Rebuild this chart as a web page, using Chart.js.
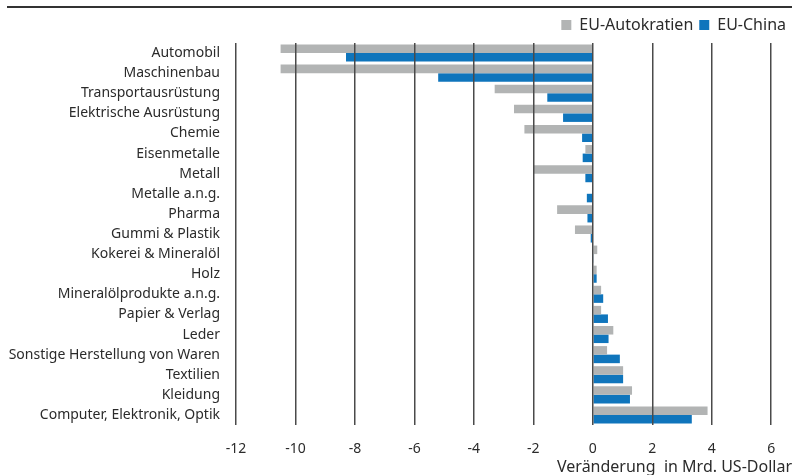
<!DOCTYPE html>
<html>
<head>
<meta charset="utf-8">
<script src="https://cdn.jsdelivr.net/npm/chart.js@4"></script>
<style>
  html, body { margin: 0; padding: 0; background: #fff; }
  #wrap { width: 792px; height: 475px; position: relative; }
</style>
</head>
<body>
<div id="wrap"><canvas id="chart" width="792" height="475"></canvas></div>
<script>
// categories, top to bottom
const branchen = [
  "Automobil", "Maschinenbau", "Transportausrüstung", "Elektrische Ausrüstung",
  "Chemie", "Eisenmetalle", "Metall", "Metalle a.n.g.", "Pharma",
  "Gummi & Plastik", "Kokerei & Mineralöl", "Holz", "Mineralölprodukte a.n.g.",
  "Papier & Verlag", "Leder", "Sonstige Herstellung von Waren", "Textilien",
  "Kleidung", "Computer, Elektronik, Optik"
];
// Veränderung in Mrd. US-Dollar
const euAutokratien = [-10.5, -10.5, -3.3, -2.65, -2.3, -0.25, -2.0, 0, -1.2, -0.6,
  0.15, 0.13, 0.28, 0.28, 0.69, 0.48, 1.02, 1.32, 3.86];
const euChina = [-8.3, -5.2, -1.53, -1.0, -0.36, -0.34, -0.25, -0.2, -0.18, -0.07,
  0.02, 0.13, 0.35, 0.51, 0.53, 0.91, 1.02, 1.25, 3.33];
const xTicks = [-12, -10, -8, -6, -4, -2, 0, 2, 4, 6];

const FONT = "'Noto Sans', sans-serif";
const TEXT = "#2b2b2b";

// dark rule at the very top
const topRule = {
  id: "topRule",
  beforeDraw(chart) {
    const c = chart.ctx;
    c.save();
    c.strokeStyle = "#333";
    c.lineWidth = 2;
    c.beginPath();
    c.moveTo(7, 7);
    c.lineTo(chart.width, 7);
    c.stroke();
    c.restore();
  },
};

new Chart(document.getElementById("chart").getContext("2d"), {
  type: "bar",
  data: {
    labels: branchen,
    datasets: [
      { label: "EU-Autokratien", data: euAutokratien, backgroundColor: "#b2b4b4" },
      { label: "EU-China", data: euChina, backgroundColor: "#0f75bc" },
    ],
  },
  plugins: [topRule],
  options: {
    responsive: false,
    animation: false,
    indexAxis: "y",
    layout: { padding: { top: 11, right: 0, left: 0, bottom: 0 } },
    datasets: { bar: { categoryPercentage: 0.85, barPercentage: 1.0 } },
    plugins: {
      tooltip: { enabled: false },
      legend: {
        position: "top",
        align: "end",
        labels: {
          boxWidth: 10,
          boxHeight: 10,
          padding: 6,
          color: TEXT,
          font: { family: FONT, size: 16 },
        },
      },
    },
    scales: {
      x: {
        min: -12,
        max: 6.7,
        afterBuildTicks: (s) => {
          s.ticks = xTicks.map((v) => ({ value: v }));
        },
        afterFit: (s) => { s.height = 50; },
        grid: { color: "#4a4a4a", lineWidth: 1.5, drawTicks: false, z: 1 },
        border: { display: false },
        ticks: {
          color: TEXT,
          padding: 16,
          font: { family: FONT, size: 14 },
        },
        title: {
          display: true,
          text: "Veränderung  in Mrd. US-Dollar",
          align: "end",
          color: TEXT,
          padding: { top: 0, bottom: -2 },
          font: { family: FONT, size: 16 },
        },
      },
      y: {
        afterFit: (s) => { s.width = 236; },
        grid: { display: false, drawTicks: false },
        border: { display: false },
        ticks: {
          color: TEXT,
          padding: 16,
          autoSkip: false,
          font: { family: FONT, size: 14 },
        },
      },
    },
  },
});
</script>
</body>
</html>
